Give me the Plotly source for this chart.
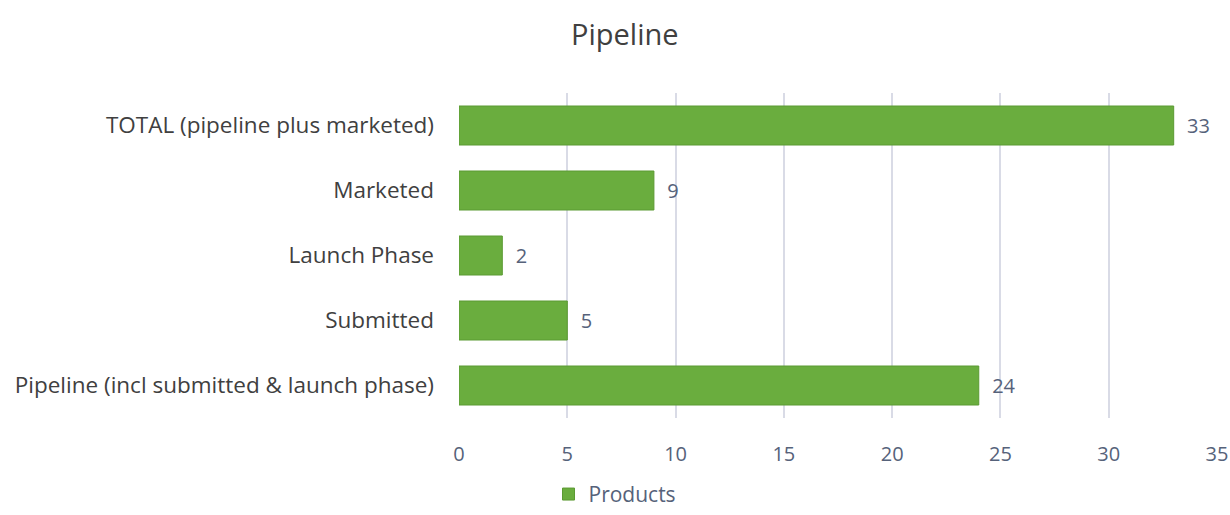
import plotly.graph_objects as go

categories = [
    "TOTAL (pipeline plus marketed)",
    "Marketed",
    "Launch Phase",
    "Submitted",
    "Pipeline (incl submitted & launch phase)",
]
products = [33, 9, 2, 5, 24]
series_name = "Products"
x_ticks = [0, 5, 10, 15, 20, 25, 30, 35]

FONT = "Open Sans"
fig = go.Figure()
fig.add_trace(go.Bar(
    y=categories,
    x=products,
    orientation="h",
    name=series_name,
    width=0.6,
    marker=dict(color="#6aad3e", line=dict(color="#5b9a32", width=1)),
    text=products,
    texttemplate="  %{x}",
    textposition="outside",
    textfont=dict(family=FONT, size=20, color="#56627a"),
    cliponaxis=False,
))

fig.update_layout(
    width=1230,
    height=515,
    margin=dict(l=459, r=13, t=93, b=97),
    paper_bgcolor="white",
    plot_bgcolor="white",
    title=dict(
        text="Pipeline",
        x=0.508, xref="container", xanchor="center",
        y=0.932, yref="container", yanchor="middle",
        font=dict(family=FONT, size=29, color="#404040"),
    ),
    showlegend=True,
    legend=dict(
        orientation="h",
        x=0.5, xref="container", xanchor="center",
        y=0.04, yref="container", yanchor="middle",
        font=dict(family=FONT, size=21, color="#56627a"),
    ),
    xaxis=dict(
        range=[0, 35],
        tickvals=x_ticks,
        showgrid=True,
        gridcolor="#d9dbe6",
        gridwidth=1.5,
        zeroline=False,
        showline=False,
        ticks="",
        automargin=False,
        ticklabelstandoff=22,
        tickfont=dict(family=FONT, size=20, color="#56627a"),
    ),
    yaxis=dict(
        autorange="reversed",
        showgrid=False,
        showline=False,
        ticks="",
        automargin=False,
        ticklabelstandoff=24,
        tickfont=dict(family=FONT, size=22.5, color="#404040"),
    ),
    bargap=0.4,
)

fig.write_html(
    "out.html",
    config={"displayModeBar": False},
    post_script="document.body.style.margin='0';",
)
